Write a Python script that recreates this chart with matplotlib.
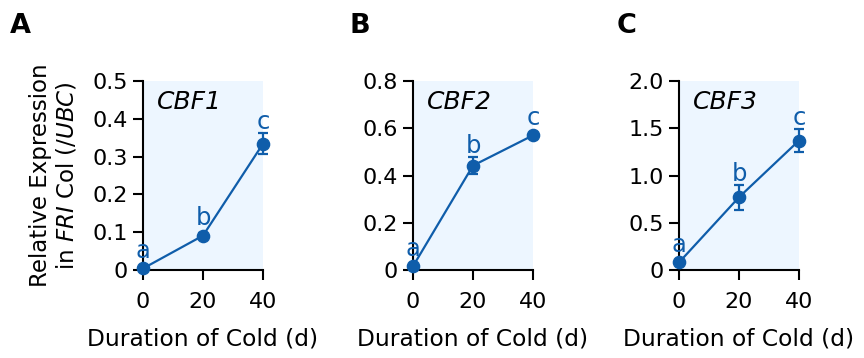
import matplotlib
matplotlib.use("Agg")
import matplotlib.pyplot as plt

plt.rcParams['font.family'] = ['DejaVu Sans']
plt.rcParams['mathtext.fontset'] = 'dejavusans'

days = [0, 20, 40]
genes = ["CBF1", "CBF2", "CBF3"]
panel_letters = ["A", "B", "C"]
cbf1_mean = [0.004, 0.091, 0.334]
cbf1_err = [0.003, 0.006, 0.028]
cbf2_mean = [0.016, 0.442, 0.570]
cbf2_err = [0.005, 0.037, 0.008]
cbf3_mean = [0.08, 0.77, 1.37]
cbf3_err = [0.02, 0.13, 0.12]
sig_letters = ["a", "b", "c"]
ymax = [0.5, 0.8, 2.0]
yticks = [[0, 0.1, 0.2, 0.3, 0.4, 0.5],
          [0, 0.2, 0.4, 0.6, 0.8],
          [0, 0.5, 1.0, 1.5, 2.0]]
ytick_labels = [["0", "0.1", "0.2", "0.3", "0.4", "0.5"],
                ["0", "0.2", "0.4", "0.6", "0.8"],
                ["0", "0.5", "1.0", "1.5", "2.0"]]
means = [cbf1_mean, cbf2_mean, cbf3_mean]
errs = [cbf1_err, cbf2_err, cbf3_err]

blue = "#0F5DAA"
bg = "#EDF6FF"

W, H = 864, 358
fig = plt.figure(figsize=(W / 100, H / 100), dpi=100)

lefts = [143, 413, 679]
ax_w = 120
top_px, bot_px = 81, 270
ax_h = bot_px - top_px
letter_x = [10, 349, 617]
ms = 8.8

for i in range(3):
    ax = fig.add_axes([lefts[i] / W, (H - bot_px) / H, ax_w / W, ax_h / H])
    ax.axvspan(0, 40, ymin=0, ymax=1, color=bg, zorder=0, lw=0)
    ax.errorbar(days, means[i], yerr=errs[i], fmt="none", ecolor=blue,
                capsize=3.7, elinewidth=1.6, capthick=1.6, zorder=2, clip_on=False)
    ax.plot(days, means[i], color=blue, lw=1.6, marker="o", ms=ms,
            zorder=3, clip_on=False)
    ax.set_xlim(0, 40)
    ax.set_ylim(0, ymax[i])
    ax.set_xticks(days)
    ax.set_xticklabels([str(d) for d in days])
    ax.set_yticks(yticks[i])
    ax.set_yticklabels(ytick_labels[i])
    for s in ["top", "right"]:
        ax.spines[s].set_visible(False)
    for s in ["left", "bottom"]:
        ax.spines[s].set_linewidth(1.5)
    ax.tick_params(axis="both", length=7.2, width=1.5, labelsize=16, direction="out")
    ax.tick_params(axis="x", pad=9)
    ax.tick_params(axis="y", pad=3.5)
    ax.set_xlabel("Duration of Cold (d)", fontsize=16.8, labelpad=11)
    ax.text(0.117, 0.889, genes[i], transform=ax.transAxes, fontsize=18,
            style="italic", ha="left", va="center")
    px_per_unit = ax_h / ymax[i]  # pixels per data unit
    for d, m, e, lab in zip(days, means[i], errs[i], sig_letters):
        above_px = max(e * px_per_unit, ms * 100 / 72 / 2)
        off_pt = (above_px + 4) * 72 / 100
        ax.annotate(lab, xy=(d, m), xytext=(0, off_pt), textcoords="offset points",
                    color=blue, fontsize=17.5, ha="center", va="baseline",
                    zorder=4, annotation_clip=False)
    fig.text(letter_x[i] / W, 1 - 13 / H, panel_letters[i], fontsize=19.5,
             fontweight="bold", ha="left", va="top")

fig.text(54 / W, (H - 175.5) / H,
         "Relative Expression\nin $\\it{FRI}$ Col ($\\it{/UBC}$)",
         rotation=90, ha="center", va="center", fontsize=16.5,
         linespacing=1.15)

fig.savefig("out.png", dpi=100)
